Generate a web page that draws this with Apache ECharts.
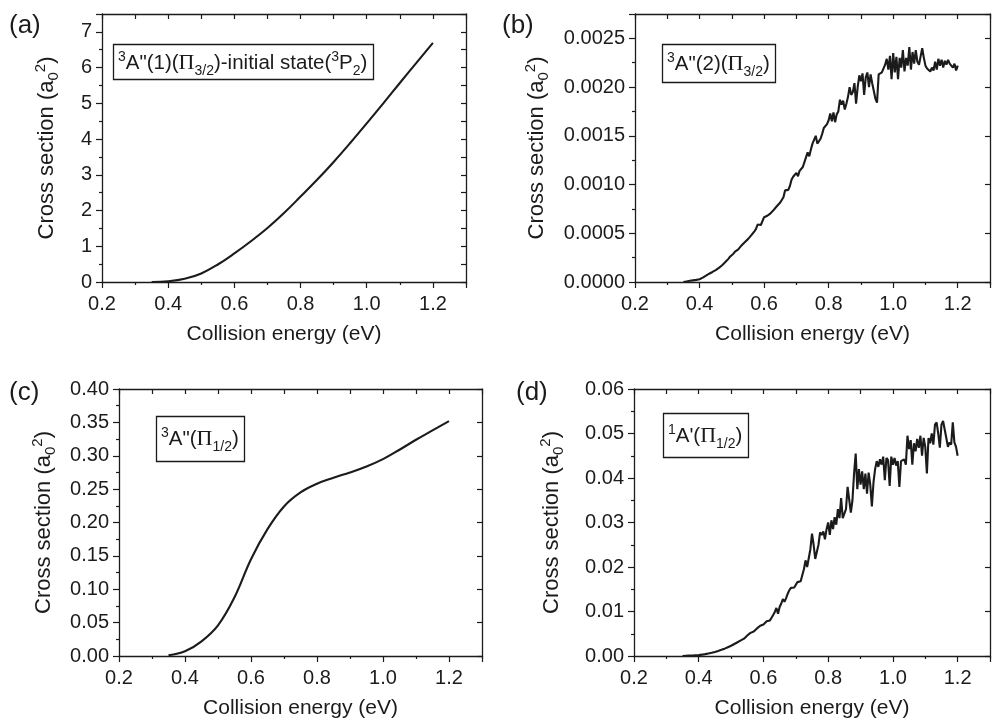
<!DOCTYPE html>
<html><head><meta charset="utf-8">
<script src="https://cdn.jsdelivr.net/npm/echarts@6/dist/echarts.min.js"></script>
<style>html,body{margin:0;padding:0;background:#fff}#c{width:993px;height:722px}</style>
</head><body><div id="c"></div>
<script>
// ---------- data ----------
const energyCoarse = [0.35,0.40,0.45,0.50,0.55,0.60,0.65,0.70,0.75,0.80,0.85,0.90,0.95,1.00,1.05,1.10,1.15,1.20];
const sigmaA = [0.0,0.02,0.09,0.24,0.49,0.80,1.14,1.51,1.93,2.39,2.86,3.36,3.89,4.44,5.00,5.57,6.13,6.69];
const sigmaC = [0.001,0.007,0.022,0.046,0.088,0.145,0.190,0.224,0.245,0.258,0.267,0.275,0.284,0.295,0.309,0.324,0.338,0.352];
const energyFine = [
0.35,0.355,0.36,0.365,0.37,0.375,0.38,0.385,0.39,0.395,
0.40,0.405,0.41,0.415,0.42,0.425,0.43,0.435,0.44,0.445,
0.45,0.455,0.46,0.465,0.47,0.475,0.48,0.485,0.49,0.495,
0.50,0.505,0.51,0.515,0.52,0.525,0.53,0.535,0.54,0.545,
0.55,0.555,0.56,0.565,0.57,0.575,0.58,0.585,0.59,0.595,
0.60,0.605,0.61,0.615,0.62,0.625,0.63,0.635,0.64,0.645,
0.65,0.655,0.66,0.665,0.67,0.675,0.68,0.685,0.69,0.695,
0.70,0.705,0.71,0.715,0.72,0.725,0.73,0.735,0.74,0.745,
0.75,0.755,0.76,0.765,0.77,0.775,0.78,0.785,0.79,0.795,
0.80,0.805,0.81,0.815,0.82,0.825,0.83,0.835,0.84,0.845,
0.85,0.855,0.86,0.865,0.87,0.875,0.88,0.885,0.89,0.895,
0.90,0.905,0.91,0.915,0.92,0.925,0.93,0.935,0.94,0.945,
0.95,0.955,0.96,0.965,0.97,0.975,0.98,0.985,0.99,0.995,
1.00,1.005,1.01,1.015,1.02,1.025,1.03,1.035,1.04,1.045,
1.05,1.055,1.06,1.065,1.07,1.075,1.08,1.085,1.09,1.095,
1.10,1.105,1.11,1.115,1.12,1.125,1.13,1.135,1.14,1.145,
1.15,1.155,1.16,1.165,1.17,1.175,1.18,1.185,1.19,1.195,
1.20];
const sigmaB = [
0.000000,0.000003,0.000006,0.000009,0.000012,0.000014,0.000017,0.000019,0.000022,0.000025,
0.000028,0.000035,0.000045,0.000055,0.000065,0.000075,0.000085,0.000095,0.000103,0.000112,
0.000122,0.000132,0.000145,0.000158,0.000172,0.000190,0.000205,0.000222,0.000240,0.000262,
0.000270,0.000290,0.000312,0.000330,0.000335,0.000355,0.000375,0.000392,0.000408,0.000425,
0.000440,0.000455,0.000478,0.000490,0.000520,0.000545,0.000590,0.000570,0.000585,0.000600,
0.000665,0.000660,0.000680,0.000690,0.000705,0.000725,0.000740,0.000720,0.000780,0.000795,
0.000815,0.000830,0.000870,0.000940,0.000960,0.000945,0.000985,0.001050,0.001080,0.001060,
0.001120,0.001085,0.001140,0.001120,0.001180,0.001230,0.001220,0.001330,0.001290,0.001360,
0.001420,0.001440,0.001500,0.001420,0.001430,0.001470,0.001520,0.001580,0.001600,0.001620,
0.001660,0.001730,0.001650,0.001740,0.001640,0.001720,0.001750,0.001870,0.001820,0.001860,
0.001770,0.001830,0.001900,0.002000,0.001920,0.001950,0.002040,0.001830,0.002000,0.002120,
0.002060,0.002140,0.001920,0.002100,0.002150,0.002000,0.002130,0.002040,0.002020,0.001880,
0.001840,0.002130,0.002120,0.002150,0.002130,0.002230,0.002290,0.002180,0.002320,0.002080,
0.002350,0.002150,0.002310,0.002080,0.002300,0.002200,0.002380,0.002160,0.002300,0.002220,
0.002410,0.002180,0.002360,0.002240,0.002380,0.002260,0.002230,0.002250,0.002400,0.002300,
0.002220,0.002190,0.002200,0.002160,0.002200,0.002170,0.002260,0.002180,0.002290,0.002220,
0.002280,0.002200,0.002270,0.002230,0.002280,0.002240,0.002250,0.002200,0.002240,0.002170,
0.002220];
const sigmaD = [
0.0000,0.00002,0.00004,0.00006,0.00008,0.0001,0.00012,0.00014,0.00016,0.00018,
0.0002,0.00025,0.0003,0.00036,0.00042,0.0005,0.00058,0.00066,0.00074,0.00083,
0.00092,0.00102,0.00113,0.00125,0.00138,0.0015,0.00165,0.0018,0.00198,0.00215,
0.0023,0.0025,0.0027,0.0029,0.0031,0.0033,0.0035,0.0037,0.0039,0.0042,
0.0046,0.0049,0.0052,0.0051,0.0055,0.0058,0.0062,0.0066,0.0068,0.0069,
0.0071,0.0074,0.0078,0.0082,0.0080,0.0086,0.0092,0.0099,0.0108,0.0095,
0.0110,0.0118,0.0128,0.0122,0.0130,0.0140,0.0148,0.0153,0.0155,0.0154,
0.0158,0.0166,0.0162,0.0168,0.0170,0.0195,0.0215,0.0200,0.0198,0.0240,
0.0275,0.0250,0.0218,0.0215,0.0250,0.0278,0.0272,0.0280,0.0262,0.0285,
0.0300,0.0272,0.0305,0.0285,0.0312,0.0295,0.0330,0.0310,0.0355,0.0310,
0.0308,0.0330,0.0380,0.0382,0.0322,0.0350,0.0410,0.0455,0.0375,0.0420,
0.0385,0.0415,0.0375,0.0410,0.0365,0.0412,0.0385,0.0336,0.0390,0.0420,
0.0438,0.0425,0.0442,0.0430,0.0448,0.0395,0.0445,0.0440,0.0382,0.0448,
0.0430,0.0445,0.0428,0.0438,0.0380,0.0438,0.0435,0.0442,0.0430,0.0495,
0.0465,0.0485,0.0430,0.0478,0.0460,0.0488,0.0468,0.0495,0.0450,0.0490,
0.0470,0.0410,0.0490,0.0478,0.0500,0.0475,0.0520,0.0525,0.0500,0.0468,
0.0520,0.0528,0.0525,0.0490,0.0470,0.0480,0.0475,0.0525,0.0480,0.0470,
0.0450];
const panelLetters = ['(a)','(b)','(c)','(d)'];
const annotations = [
  '{sup|3}{t|A"(1)(}{pi|Π}{sub|3/2}{t|)-initial state(}{sup|3}{t|P}{sub|2}{t|)}',
  '{sup|3}{t|A"(2)(}{pi|Π}{sub|3/2}{t|)}',
  '{sup|3}{t|A"(}{pi|Π}{sub|1/2}{t|)}',
  '{sup|1}{t|A\'(}{pi|Π}{sub|1/2}{t|)}'
];
const xTitle = 'Collision energy (eV)';
const yTitle = '{n|Cross section (a}{sub|0}{sup|2}{n|)}';
const yMaxes = [7.5, 0.00275, 0.40, 0.06];
const yIntervals = [1, 0.0005, 0.05, 0.01];
const yDecimals = [0, 4, 2, 2];
const xMin = 0.2, xMax = 1.3, xInterval = 0.2;

// ---------- layout ----------
const FONT = 'Liberation Sans, Arial, Helvetica, sans-serif';
const INK = '#1b1b1b';
const grids = [
  {left:102, top:14, width:364, height:268},
  {left:635, top:14, width:363, height:268},
  {left:119, top:389, width:363, height:267},
  {left:634, top:389, width:363, height:267}
];
const yNameGaps = [40, 83, 60, 67];
const letterPos = [[9,13],[502,13],[9,380],[516,380]];
const annPos = [[113,44],[662,44],[156,416],[663,413]];
const annPad = [[4,6,2,5],[5,6,4,5],[8,6,8,5],[8,6,7,5]];
const seriesX = [energyCoarse, energyFine, energyCoarse, energyFine];
const seriesY = [sigmaA, sigmaB, sigmaC, sigmaD];
const smoothFlags = [0.4, false, 0.4, false];

function isMultiple(v, step){ const r = v/step; return Math.abs(r-Math.round(r)) < 1e-6; }

const axisLine = {show:true, onZero:false, lineStyle:{color:INK, width:1.3}};
const xAxes = [], yAxes = [], series = [], titles = [];
grids.forEach((g,i)=>{
  xAxes.push({
    gridIndex:i, type:'value', position:'bottom', min:xMin, max:xMax, interval:xInterval,
    axisLine, splitLine:{show:false},
    axisTick:{show:true, inside:false, length:6, lineStyle:{color:INK, width:1.2}},
    minorTick:{show:true, splitNumber:2, length:3, lineStyle:{color:INK, width:1.2}},
    axisLabel:{fontSize:20, color:INK, fontFamily:FONT, margin:12,
      formatter:v=> isMultiple(v,xInterval) ? v.toFixed(1) : ''},
    name:xTitle, nameLocation:'middle', nameGap:42,
    nameTextStyle:{fontSize:21, color:INK, fontFamily:FONT}
  });
  xAxes.push({
    gridIndex:i, type:'value', position:'top', min:xMin, max:xMax, interval:0.1,
    axisLine, splitLine:{show:false},
    axisTick:{show:true, inside:true, length:5, lineStyle:{color:INK, width:1.2}},
    axisLabel:{show:false}
  });
  const ymax = yMaxes[i], yint = yIntervals[i], dec = yDecimals[i];
  yAxes.push({
    gridIndex:i, type:'value', position:'left', min:0, max:ymax, interval:yint,
    axisLine, splitLine:{show:false},
    axisTick:{show:true, inside:false, length:6, lineStyle:{color:INK, width:1.2}},
    minorTick:{show:true, splitNumber:2, length:3, lineStyle:{color:INK, width:1.2}},
    axisLabel:{fontSize:20, color:INK, fontFamily:FONT, margin:10,
      formatter:v=> isMultiple(v,yint) ? v.toFixed(dec) : ''},
    name:yTitle, nameLocation:'middle', nameGap:yNameGaps[i], nameRotate:90,
    nameTextStyle:{color:INK, fontFamily:FONT, rich:{
      n:{fontSize:22, fontFamily:FONT, color:INK, lineHeight:30},
      sub:{fontSize:15, fontFamily:FONT, color:INK, verticalAlign:'bottom', lineHeight:15, padding:[0,0,1,0]},
      sup:{fontSize:15, fontFamily:FONT, color:INK, verticalAlign:'top', lineHeight:15, padding:[1,0,0,0]}
    }}
  });
  yAxes.push({
    gridIndex:i, type:'value', position:'right', min:0, max:ymax, interval: i===0 ? yint/2 : yint,
    axisLine, splitLine:{show:false},
    axisTick:{show:true, inside:true, length:5, lineStyle:{color:INK, width:1.2}},
    axisLabel:{show:false}
  });
  series.push({
    type:'line', xAxisIndex:2*i, yAxisIndex:2*i,
    data: seriesX[i].map((e,k)=>[e, seriesY[i][k]]),
    showSymbol:false, smooth:smoothFlags[i],
    lineStyle:{color:INK, width:2.1}, silent:true
  });
  titles.push({
    text:panelLetters[i], left:letterPos[i][0], top:letterPos[i][1], padding:0,
    textStyle:{fontSize:26, fontWeight:'normal', color:INK, fontFamily:FONT}
  });
  titles.push({
    text:annotations[i], left:annPos[i][0], top:annPos[i][1],
    borderColor:INK, borderWidth:1.3, padding:annPad[i],
    textStyle:{fontSize:20.5, fontWeight:'normal', color:INK, fontFamily:FONT, rich:{
      t:{fontSize:20.5, fontFamily:FONT, color:INK, lineHeight:30},
      pi:{fontSize:22, fontFamily:'Liberation Serif, DejaVu Serif, serif', color:INK, lineHeight:30},
      sub:{fontSize:14, fontFamily:FONT, color:INK, verticalAlign:'bottom', lineHeight:14},
      sup:{fontSize:14, fontFamily:FONT, color:INK, verticalAlign:'top', lineHeight:14, padding:[2,0,0,0]}
    }}
  });
});

const chart = echarts.init(document.getElementById('c'), null, {renderer:'canvas'});
chart.setOption({
  animation:false,
  backgroundColor:'#fff',
  title:titles,
  grid:grids.map(g=>Object.assign({containLabel:false}, g)),
  xAxis:xAxes, yAxis:yAxes, series
});
</script></body></html>
